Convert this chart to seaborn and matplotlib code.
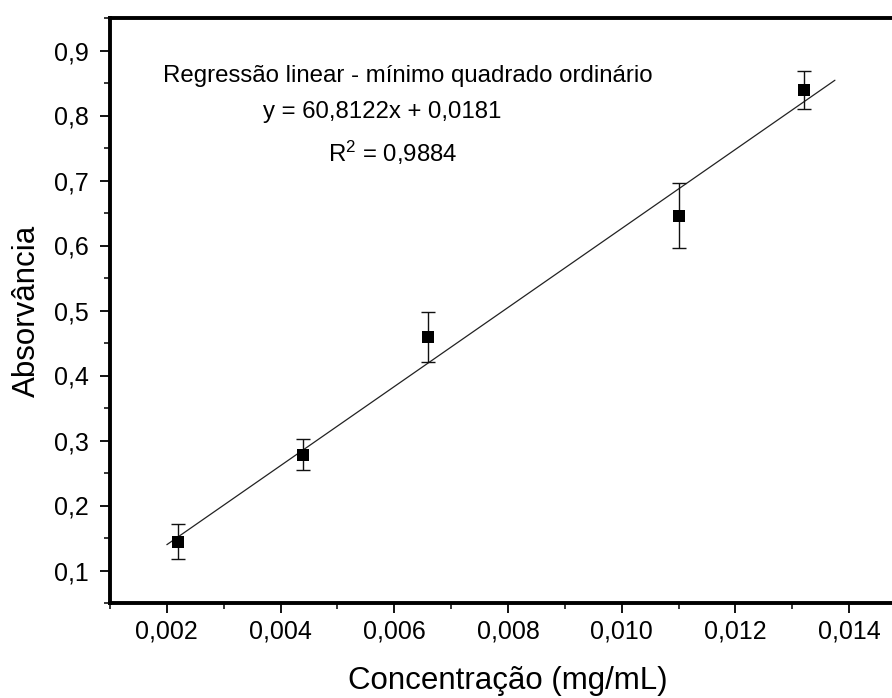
import matplotlib
matplotlib.use("Agg")
import matplotlib.pyplot as plt
import seaborn as sns
import pandas as pd
from matplotlib.ticker import MultipleLocator
from matplotlib.transforms import IdentityTransform

# ---- data ----
conc = [0.0022, 0.0044, 0.0066, 0.0110, 0.0132]
absorb = [0.144, 0.278, 0.459, 0.646, 0.839]
err = [0.027, 0.024, 0.038, 0.050, 0.029]
slope = 60.8122
intercept = 0.0181
fit_x = [0.0020, 0.01375]
xticks = [0.002, 0.004, 0.006, 0.008, 0.010, 0.012, 0.014]
xticklabels = ["0,002", "0,004", "0,006", "0,008", "0,010", "0,012", "0,014"]
yticks = [0.1, 0.2, 0.3, 0.4, 0.5, 0.6, 0.7, 0.8, 0.9]
yticklabels = ["0,1", "0,2", "0,3", "0,4", "0,5", "0,6", "0,7", "0,8", "0,9"]
title_lines = ["Regressão linear - mínimo quadrado ordinário",
               "y = 60,8122x + 0,0181",
               "R$^2$ = 0,9884"]
xlabel = "Concentração (mg/mL)"
ylabel = "Absorvância"

sns.set_theme(style="ticks")
plt.rcParams["font.family"] = ["Liberation Sans", "DejaVu Sans"]
plt.rcParams["mathtext.fontset"] = "custom"
plt.rcParams["mathtext.rm"] = "Liberation Sans"
plt.rcParams["mathtext.it"] = "Liberation Sans"
plt.rcParams["text.color"] = "black"
plt.rcParams["axes.labelcolor"] = "black"

df = pd.DataFrame({"x": conc, "y": absorb, "e": err})
fit_df = pd.DataFrame({"x": fit_x, "y": [slope * v + intercept for v in fit_x]})

fig = plt.figure(figsize=(8.92, 6.98), dpi=100)
W, H = 892, 698
left, right_px, top_px, bottom_px = 110, 906, 18, 603
ax = fig.add_axes([left / W, (H - bottom_px) / H, (right_px - left) / W, (bottom_px - top_px) / H])

sns.lineplot(data=fit_df, x="x", y="y", ax=ax, color="#222222", linewidth=0.9)
ax.errorbar(df["x"], df["y"], yerr=df["e"], fmt="none", ecolor="#111111",
            elinewidth=1.0, capsize=4.8, capthick=1.0, zorder=3)
sns.scatterplot(data=df, x="x", y="y", ax=ax, marker="s", s=80, color="black",
                edgecolor="black", linewidth=0, zorder=4)

ax.set_xlim(0.001, 0.015)
ax.set_ylim(0.05, 0.95)
ax.set_xticks(xticks)
ax.set_xticklabels(xticklabels)
ax.set_yticks(yticks)
ax.set_yticklabels(yticklabels)
ax.xaxis.set_minor_locator(MultipleLocator(0.001))
ax.yaxis.set_minor_locator(MultipleLocator(0.05))
ax.tick_params(axis="both", which="major", length=7, width=1.3, labelsize=18,
               direction="out", colors="black")
ax.tick_params(axis="x", which="major", pad=5)
ax.tick_params(axis="y", which="major", pad=8.5)
ax.tick_params(axis="both", which="minor", length=4, width=1.3, direction="out")
for s in ax.spines.values():
    s.set_linewidth(2.8)
    s.set_color("black")

ax.set_xlabel(xlabel, fontsize=22.5, labelpad=16)
ax.set_ylabel(ylabel, fontsize=22.5, labelpad=8.5)

positions = [(408, 82), (382, 118), (393, 162)]
for txt, (px, py) in zip(title_lines, positions):
    ax.text(px, H - py, txt, transform=IdentityTransform(), fontsize=17.3,
            ha="center", va="baseline", color="black")

fig.savefig("out.png", dpi=100)
